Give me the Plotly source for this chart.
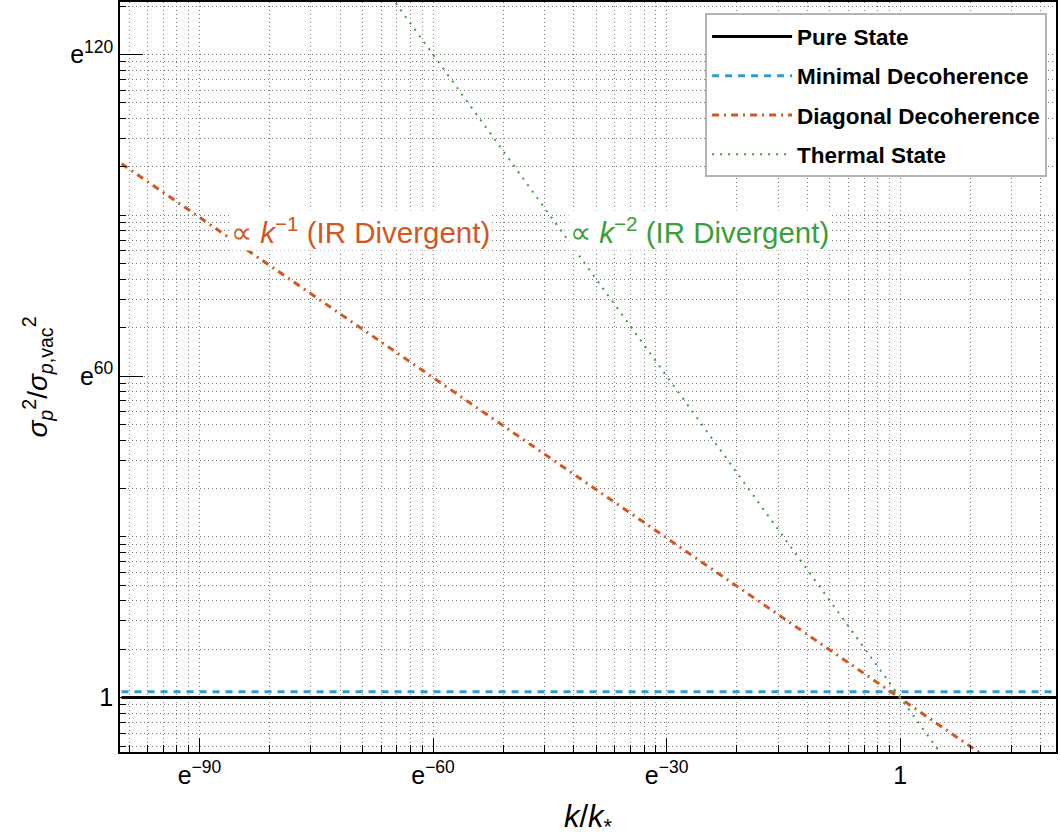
import numpy as np
import plotly.graph_objects as go

LN10 = np.log(10.0)

# ---- data: natural-log exponents (k/k* = e^a, sigma ratio = e^b)
k_pure_exp = [-100, 20]
s_pure_exp = [0, 0]
k_min_exp = [-100, 20]
s_min_exp = [1.1, 1.1]
k_diag_exp = [-100, -50, 0, 11]
s_diag_exp = [99.6, 49.7, -0.1, -11.1]
k_th_exp = [-66, -30, 0, 6]
s_th_exp = [132, 60, 0, -12]

series_names = ["<b>Pure State</b>", "<b>Minimal Decoherence</b>",
                "<b>Diagonal Decoherence</b>", "<b>Thermal State</b>"]

x_tick_exps = [-90, -60, -30, 0]
x_tick_text = ["e<sup>−90</sup>", "e<sup>−60</sup>", "e<sup>−30</sup>", "1"]
y_tick_exps = [0, 60, 120]
y_tick_text = ["1", "e<sup>60</sup>", "e<sup>120</sup>"]

x_range_exp = [-100.2, 20.0]
y_range_exp = [-10.15, 129.8]

FONT = "Liberation Sans, Arial, sans-serif"
BLACK = "#000000"
BLUE = "#3399D1"
ORANGE = "#D4561F"
GREEN = "#3A9E3A"
GRID = "#777777"
GRIDDASH = "1px,3px"


def minor_vals(lo, hi, majors):
    vals = []
    for j in range(-6, 6):
        for m in range(1, 10):
            e = 30 * j + 30 * np.log10(m)
            if lo <= e <= hi and all(abs(e - M) > 1e-6 for M in majors):
                vals.append(float(np.exp(e)))
    return vals


def ex(a):
    return np.exp(np.array(a, dtype=float))


fig = go.Figure()
fig.add_trace(go.Scatter(x=ex(k_pure_exp), y=ex(s_pure_exp), mode="lines",
                         name=series_names[0], legendgroup="a",
                         line=dict(color=BLACK, width=3)))
fig.add_trace(go.Scatter(x=ex(k_min_exp), y=ex(s_min_exp), mode="lines",
                         name=series_names[1], legendgroup="b",
                         line=dict(color=BLUE, width=3, dash="7px,6px")))
fig.add_trace(go.Scatter(x=ex(k_diag_exp), y=ex(s_diag_exp), mode="lines",
                         name=series_names[2], legendgroup="c",
                         line=dict(color=ORANGE, width=3, dash="7px,5px,2px,5px")))
fig.add_trace(go.Scatter(x=ex(k_th_exp), y=ex(s_th_exp), mode="lines",
                         name=series_names[3], legendgroup="d",
                         line=dict(color=GREEN, width=2, dash="2px,6px")))

axis_common = dict(
    type="log", showline=True, linecolor=BLACK, linewidth=1.5, mirror=True,
    ticks="inside", tickcolor=BLACK, tickwidth=1.2, automargin=False,
    showgrid=True, gridcolor=GRID, gridwidth=1, griddash=GRIDDASH,
    zeroline=False, tickfont=dict(family=FONT, size=25, color=BLACK),
)

fig.update_xaxes(
    **axis_common,
    range=[v / LN10 for v in x_range_exp],
    tickmode="array",
    tickvals=list(ex(x_tick_exps)), ticktext=x_tick_text, ticklen=14,
    minor=dict(tickmode="array",
               tickvals=minor_vals(x_range_exp[0], x_range_exp[1], x_tick_exps),
               ticks="inside", ticklen=7, tickcolor=BLACK, tickwidth=1,
               showgrid=True, gridcolor=GRID, gridwidth=1, griddash=GRIDDASH),
    title=dict(text="<i>k</i>/<i>k</i><sub>*</sub>",
               font=dict(family=FONT, size=31, color=BLACK), standoff=18),
)
fig.update_yaxes(
    **axis_common,
    range=[v / LN10 for v in y_range_exp],
    tickmode="array",
    tickvals=list(ex(y_tick_exps)), ticktext=y_tick_text, ticklen=23,
    minor=dict(tickmode="array",
               tickvals=minor_vals(y_range_exp[0], y_range_exp[1], y_tick_exps),
               ticks="inside", ticklen=6, tickcolor=BLACK, tickwidth=1,
               showgrid=True, gridcolor=GRID, gridwidth=1, griddash=GRIDDASH),
    title=dict(text="<i>σ</i><sub><i>p</i></sub><sup>2</sup>/<i>σ</i><sub><i>p</i>,vac</sub><sup>2</sup>",
               font=dict(family=FONT, size=28, color=BLACK), standoff=14),
)

fig.add_annotation(x=-69.3 / LN10, y=87.2 / LN10, xref="x", yref="y",
                   text="∝ <i>k</i><sup>−1</sup> (IR Divergent)", showarrow=False,
                   font=dict(family=FONT, size=29.5, color=ORANGE), bgcolor="white")
fig.add_annotation(x=-25.8 / LN10, y=87.2 / LN10, xref="x", yref="y",
                   text="∝ <i>k</i><sup>−2</sup> (IR Divergent)", showarrow=False,
                   font=dict(family=FONT, size=29.5, color=GREEN), bgcolor="white")

fig.update_layout(
    width=1060, height=839,
    margin=dict(l=120, r=4, t=2, b=87, autoexpand=False),
    plot_bgcolor="white", paper_bgcolor="white",
    showlegend=True,
    legend=dict(x=0.9905, y=0.985, xanchor="right", yanchor="top",
                bgcolor="white", bordercolor="#b4b4b4", borderwidth=2,
                font=dict(family=FONT, size=22.5, color=BLACK),
                traceorder="grouped", tracegroupgap=7, itemwidth=80),
)

fig.write_html("out.html",
               config={"displayModeBar": False},
               post_script="document.body.style.margin='0px';"
                           "document.body.style.overflow='hidden';")
